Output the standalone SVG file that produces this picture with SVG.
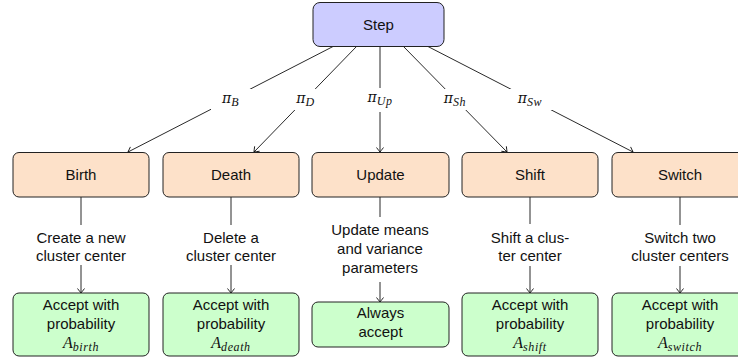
<svg xmlns="http://www.w3.org/2000/svg" width="738" height="359" viewBox="0 0 738 359">
<style>
.box{stroke:#222;stroke-width:1;}
.step{fill:#ccccff;}
.op{fill:#fde1c9;}
.acc{fill:#ccffcc;}
.t{font-family:"Liberation Sans",Arial,sans-serif;font-size:15px;fill:#111;text-anchor:middle;}
.m{font-family:"Liberation Serif","DejaVu Serif",serif;font-style:italic;font-size:16px;fill:#111;text-anchor:middle;}
.pi{font-family:"DejaVu Serif",serif;font-size:14px;}
.s{font-family:"Liberation Serif",serif;font-size:12px;letter-spacing:0.6px;}
.e{stroke:#111;stroke-width:0.9;fill:none;}
.bg{fill:#fff;}
</style>
<defs>
<marker id="ar" markerUnits="userSpaceOnUse" markerWidth="12" markerHeight="12" viewBox="-6 -6 12 12" refX="0" refY="0" orient="auto">
<path d="M-4.5,-3.5 Q-1.2,-1 0,0 Q-1.2,1 -4.5,3.5" fill="none" stroke="#111" stroke-width="0.9"/>
</marker>
</defs>
<g id="connectors">
<line class="e" x1="334" y1="46" x2="128" y2="152" marker-end="url(#ar)"/>
<line class="e" x1="357" y1="46" x2="254" y2="152" marker-end="url(#ar)"/>
<line class="e" x1="380" y1="46" x2="380" y2="152" marker-end="url(#ar)"/>
<line class="e" x1="403" y1="46" x2="507" y2="152" marker-end="url(#ar)"/>
<line class="e" x1="427" y1="46" x2="633" y2="152" marker-end="url(#ar)"/>
<rect class="bg" x="211" y="89" width="40" height="21"/>
<rect class="bg" x="286" y="89" width="40" height="21"/>
<rect class="bg" x="362" y="88" width="36" height="24"/>
<rect class="bg" x="435" y="89" width="40" height="21"/>
<rect class="bg" x="508" y="89" width="44" height="21"/>
<text class="m" x="230.5" y="103"><tspan class="pi">π</tspan><tspan class="s" dy="2.5">B</tspan></text>
<text class="m" x="305.5" y="103"><tspan class="pi">π</tspan><tspan class="s" dy="2.5">D</tspan></text>
<text class="m" x="380" y="102"><tspan class="pi">π</tspan><tspan class="s" dy="2.5">Up</tspan></text>
<text class="m" x="455" y="103"><tspan class="pi">π</tspan><tspan class="s" dy="2.5">Sh</tspan></text>
<text class="m" x="530" y="103"><tspan class="pi">π</tspan><tspan class="s" dy="2.5">Sw</tspan></text>
<line class="e" x1="81" y1="197" x2="81" y2="225"/>
<line class="e" x1="81" y1="265" x2="81" y2="293" marker-end="url(#ar)"/>
<line class="e" x1="231" y1="197" x2="231" y2="225"/>
<line class="e" x1="231" y1="265" x2="231" y2="293" marker-end="url(#ar)"/>
<line class="e" x1="380" y1="197" x2="380" y2="217"/>
<line class="e" x1="380" y1="282" x2="380" y2="302" marker-end="url(#ar)"/>
<line class="e" x1="530" y1="197" x2="530" y2="224"/>
<line class="e" x1="530" y1="266" x2="530" y2="293" marker-end="url(#ar)"/>
<line class="e" x1="680" y1="197" x2="680" y2="225"/>
<line class="e" x1="680" y1="266" x2="680" y2="293" marker-end="url(#ar)"/>
<text class="t" x="81" y="243">Create a new</text>
<text class="t" x="81" y="261">cluster center</text>
<text class="t" x="231" y="243">Delete a</text>
<text class="t" x="231" y="261">cluster center</text>
<text class="t" x="380" y="235">Update means</text>
<text class="t" x="380" y="254">and variance</text>
<text class="t" x="380" y="272.5">parameters</text>
<text class="t" x="530" y="242.5">Shift a clus-</text>
<text class="t" x="530" y="261">ter center</text>
<text class="t" x="680" y="243">Switch two</text>
<text class="t" x="680" y="261">cluster centers</text>
</g>
<g id="step">
<rect class="box step" x="313" y="2.5" width="131" height="44" rx="7"/>
<text class="t" x="378.5" y="29.5">Step</text>
</g>
<g id="birth">
<rect class="box op" x="13" y="152.5" width="136" height="44.5" rx="6"/>
<text class="t" x="81" y="180">Birth</text>
</g>
<g id="death">
<rect class="box op" x="163" y="152.5" width="136" height="44.5" rx="6"/>
<text class="t" x="231" y="180">Death</text>
</g>
<g id="update">
<rect class="box op" x="312" y="152.5" width="137" height="44.5" rx="6"/>
<text class="t" x="380.5" y="180">Update</text>
</g>
<g id="shift">
<rect class="box op" x="462" y="152.5" width="136" height="44.5" rx="6"/>
<text class="t" x="530" y="180">Shift</text>
</g>
<g id="switch">
<rect class="box op" x="612" y="152.5" width="136" height="44.5" rx="6"/>
<text class="t" x="680" y="180">Switch</text>
</g>
<g id="acc-birth">
<rect class="box acc" x="13" y="293" width="136" height="63" rx="6"/>
<text class="t" x="81" y="309.5">Accept with</text>
<text class="t" x="81" y="328.5">probability</text>
<text class="m" x="81" y="348">A<tspan class="s" dy="3">birth</tspan></text>
</g>
<g id="acc-death">
<rect class="box acc" x="163" y="293" width="136" height="63" rx="6"/>
<text class="t" x="231" y="309.5">Accept with</text>
<text class="t" x="231" y="328.5">probability</text>
<text class="m" x="231" y="348">A<tspan class="s" dy="3">death</tspan></text>
</g>
<g id="acc-update">
<rect class="box acc" x="312" y="302" width="137" height="45" rx="6"/>
<text class="t" x="380.5" y="318">Always</text>
<text class="t" x="380.5" y="336.5">accept</text>
</g>
<g id="acc-shift">
<rect class="box acc" x="462" y="293" width="136" height="63" rx="6"/>
<text class="t" x="530" y="309.5">Accept with</text>
<text class="t" x="530" y="328.5">probability</text>
<text class="m" x="530" y="348">A<tspan class="s" dy="3">shift</tspan></text>
</g>
<g id="acc-switch">
<rect class="box acc" x="612" y="293" width="136" height="63" rx="6"/>
<text class="t" x="680" y="309.5">Accept with</text>
<text class="t" x="680" y="328.5">probability</text>
<text class="m" x="680" y="348">A<tspan class="s" dy="3">switch</tspan></text>
</g>
</svg>
